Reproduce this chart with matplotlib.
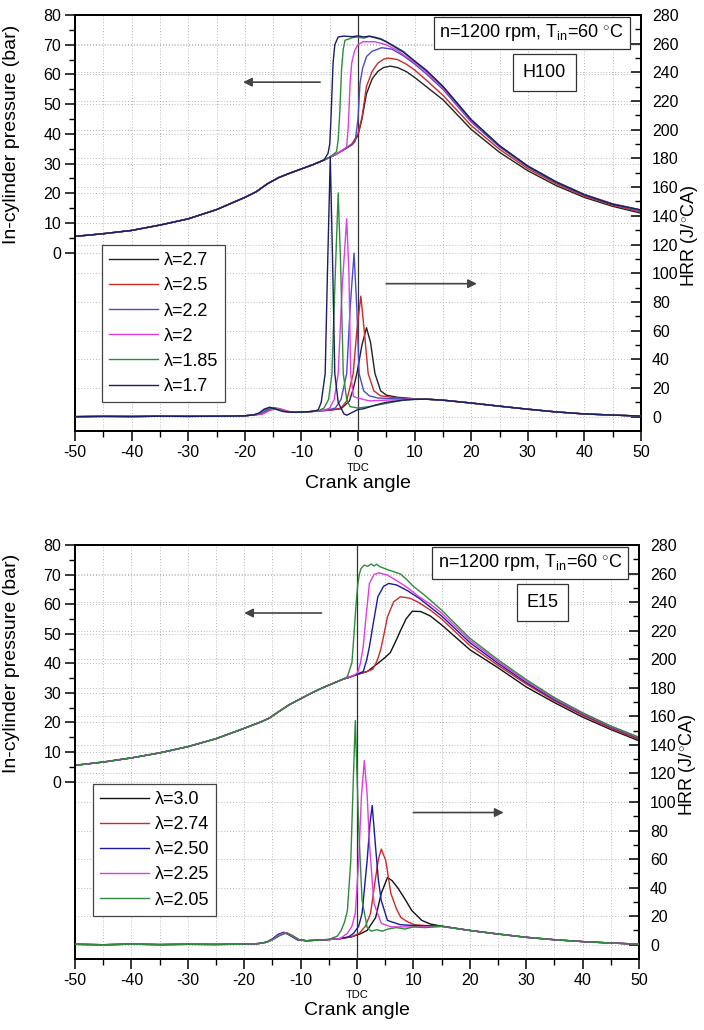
import matplotlib
matplotlib.use("Agg")
import matplotlib.pyplot as plt
import matplotlib.transforms as mtransforms
from matplotlib.ticker import FixedLocator

plt.rcParams['font.family'] = ['Liberation Sans', 'DejaVu Sans']
plt.rcParams['mathtext.fontset'] = 'custom'
plt.rcParams['mathtext.rm'] = 'Liberation Sans'
plt.rcParams['mathtext.it'] = 'Liberation Sans:italic'
plt.rcParams['mathtext.bf'] = 'Liberation Sans:bold'
plt.rcParams['axes.unicode_minus'] = False

# ---------------- H100 (top panel) ----------------
H100_LABELS = ['λ=2.7', 'λ=2.5', 'λ=2.2', 'λ=2', 'λ=1.85', 'λ=1.7']
H100_COLORS = ['#222222', '#cc2a2a', '#4b4bc8', '#e03ce0', '#2e8b3a', '#1c1c66']

H100_COMP_X = [-50, -45, -40, -35, -30, -25, -20, -18, -16, -14, -12, -10, -8, -6]
H100_COMP_P = [5.5, 6.4, 7.5, 9.3, 11.4, 14.5, 18.6, 20.5, 23.2, 25.3, 26.8, 28.2, 29.6, 31.2]

H100_P_X = [
    [-4, -2, -1, 0, 0.7, 1.5, 2.5, 3.5, 4.5, 5.7, 7, 8.5, 10, 12, 15, 20, 25, 30, 35, 40, 45, 50],
    [-4, -2, -1, 0, 0.7, 1.5, 2.5, 3.5, 4.5, 5.3, 7, 8.5, 10, 12, 15, 20, 25, 30, 35, 40, 45, 50],
    [-4, -2, -1, -0.5, 0, 0.35, 0.8, 1.5, 2.5, 4.2, 6, 8, 10, 12, 15, 20, 25, 30, 35, 40, 45, 50],
    [-4, -3, -2, -1.7, -1.4, -1.1, -0.6, 0, 0.9, 3, 5, 7, 10, 12, 15, 20, 25, 30, 35, 40, 45, 50],
    [-5, -4.3, -3.8, -3.5, -3.2, -2.9, -2.6, -2.3, -1.5, -1, 0, 1, 2, 3, 4, 5, 6, 8, 10, 12, 15,
     20, 25, 30, 35, 40, 45, 50],
    [-5.6, -5.3, -5, -4.8, -4.6, -4.4, -4.1, -3.5, -2.5, -1, 0, 1, 2, 3, 4, 5, 6, 8, 10, 12, 15,
     20, 25, 30, 35, 40, 45, 50],
]
H100_P_Y = [
    [33, 35.2, 36.5, 39.5, 45, 53.5, 58.5, 61, 62.3, 62.8, 62.3, 61, 59, 56, 51.5, 41.5, 33.8, 27.6, 22.6, 18.6, 15.6, 13.3],
    [33, 35.3, 36.8, 40, 45.6, 56, 61, 63.8, 65.1, 65.5, 65, 63.5, 61.5, 58.2, 53, 42.8, 34.8, 28.3, 23.2, 19, 16, 13.7],
    [33, 35.4, 36.4, 37.5, 45, 57, 62, 66, 67.8, 69, 68.5, 66.3, 63.5, 60.3, 55, 44, 35.6, 28.9, 23.6, 19.4, 16.3, 14.1],
    [33, 34.2, 35.5, 43, 57, 64, 68, 70, 71, 71, 70, 68, 64, 61, 55.5, 44.5, 36, 29.2, 23.9, 19.6, 16.5, 14.4],
    [32.2, 33.2, 34, 38, 48, 62, 68.5, 71.5, 72, 72.4, 72.6, 72.2, 72.8, 72.3, 71.8, 71, 70, 67.8, 64.5, 61.5, 56,
     44.8, 36, 29.2, 23.9, 19.6, 16.4, 14.3],
    [32.5, 33.4, 36.5, 44, 54, 64, 70, 72.6, 72.9, 72.7, 73, 72.6, 72.9, 72.5, 72, 71, 69.8, 67.5, 64.5, 61.5, 56,
     44.8, 36, 29.1, 23.8, 19.5, 16.3, 14.4],
]

H100_HRR_BASE_X = [-50, -45, -40, -35, -30, -25, -22, -20, -18.5]
H100_HRR_BASE_Y = [0, 0.2, 0.1, 0.3, 0.2, 0.3, 0.4, 0.6, 1.2]
H100_HRR_X = [
    [-17, -16, -14.8, -13.8, -12.5, -11, -9, -7, -5, -3, -1.5, -0.8, -0.2, 0.7, 1.5, 2.2, 3.0, 4, 5, 7, 10],
    [-17, -16, -14.5, -13.5, -12.3, -11, -9, -7, -5, -3, -2, -0.85, -0.2, 0.5, 1.1, 1.8, 2.8, 4, 6, 8, 10],
    [-17, -16, -15, -14, -12.7, -11, -9, -7, -5, -4, -3, -2, -1.4, -0.7, -0.2, 0.2, 1, 2, 3.5, 6, 10],
    [-17, -15.5, -14.3, -13.3, -12.2, -11, -9, -7, -6, -5, -4.2, -3.5, -2.8, -2, -1.6, -1.3, -0.8, 0.35, 2, 5, 10],
    [-17.5, -16.3, -15.2, -14.2, -13, -11, -9, -7, -6, -5.2, -4.6, -4.1, -3.5, -3.1, -2.6, -2, -1.4, 0, 2, 4, 6, 8, 10],
    [-17.5, -16.6, -15.6, -14.6, -13.3, -11.5, -9, -7.5, -7, -6.5, -5.8, -5.4, -4.9, -4.5, -4.1, -3.5, -2.5, -2, -1,
     0, 1, 3, 5, 8, 10],
]
H100_HRR_Y = [
    [2, 4.5, 6, 5, 3.6, 3, 3.3, 4, 4.5, 5.5, 11, 20, 30, 50, 62, 52, 30, 18, 15, 13.5, 12.5],
    [1.8, 4, 5.8, 5, 3.6, 3, 3.3, 4, 4.5, 6, 11, 30, 60, 84, 60, 30, 18, 14.5, 13.5, 12.7, 12.3],
    [2.2, 4.8, 6.2, 5.2, 3.6, 3, 3.3, 4, 5, 6, 12, 30, 75, 114, 75, 30, 18, 14.5, 13, 12.5, 12.2],
    [1.6, 4.5, 6, 5, 3.6, 3, 3.3, 4, 4.5, 6, 12, 30, 90, 138, 100, 30, 14, 12.6, 11, 11.5, 12.2],
    [2.2, 5, 6.4, 5.2, 3.6, 3, 3.3, 4, 6, 12, 30, 90, 156, 110, 30, 12, 7, 6, 7, 8.5, 10, 11.5, 12.2],
    [2.5, 5.2, 6.6, 5.3, 3.6, 3, 3.4, 4, 5, 10, 30, 100, 181, 110, 30, 10, 2, 1, 3, 5, 5.5, 8, 10, 11.5, 12],
]
H100_HRR_TAIL_X = [12, 15, 20, 25, 30, 35, 40, 45, 50]
H100_HRR_TAIL_Y = [12.2, 11.5, 9.5, 7.3, 5.2, 3.3, 1.9, 1.1, 0.4]

# ---------------- E15 (bottom panel) ----------------
E15_LABELS = ['λ=3.0', 'λ=2.74', 'λ=2.50', 'λ=2.25', 'λ=2.05']
E15_COLORS = ['#111111', '#cc2a2a', '#1a1aa0', '#e03ce0', '#2e8b3a']

E15_COMP_X = [-50, -45, -40, -35, -30, -25, -20, -17, -15.5, -14, -12, -10, -8, -6, -4, -2.5]
E15_COMP_P = [5.5, 6.6, 8.0, 9.7, 11.8, 14.5, 18.0, 20.2, 21.5, 23.5, 26, 28, 30, 31.8, 33.4, 34.6]

E15_P_X = [
    [-1.5, 0, 1.9, 3.7, 5.0, 5.9, 7, 7.7, 8.7, 9.8, 11.3, 13, 15, 20, 25, 30, 35, 40, 45, 50],
    [-1.5, 0, 1.5, 2.8, 3.6, 4.2, 4.8, 5.4, 6.5, 7.7, 9.4, 11, 13, 15, 20, 25, 30, 35, 40, 45, 50],
    [-1.5, 0, 0.6, 1.1, 1.7, 2.2, 2.9, 3.7, 4.7, 5.6, 7, 9, 11, 13, 15, 20, 25, 30, 35, 40, 45, 50],
    [-1.5, -0.5, 0.1, 0.6, 1.1, 1.6, 2.2, 3.0, 3.9, 5.4, 7, 9, 11, 13, 15, 20, 25, 30, 35, 40, 45, 50],
    [-1.7, -0.9, -0.6, -0.2, 0.1, 0.4, 0.7, 1.3, 1.9, 2.5, 3.0, 3.5, 4.0, 4.7, 5.5, 6.5, 7.7, 9, 10, 12, 15,
     20, 25, 30, 35, 40, 45, 50],
]
E15_P_Y = [
    [35.2, 36.2, 37.3, 40, 42, 43.6, 48, 51, 55, 57.6, 57.5, 56, 53, 44.6, 38.5, 32, 26.7, 21.8, 17.6, 13.8],
    [35.2, 36.2, 37, 38, 41, 44.6, 50, 55.7, 60.8, 62.5, 62, 60.5, 58, 55, 46, 39.3, 33, 27.3, 22.4, 18, 14.2],
    [35.2, 36.3, 36.8, 37.2, 41, 45.6, 53.7, 62.5, 66, 67, 66.5, 64.5, 62, 59, 56, 47, 40, 33.5, 27.7, 22.8, 18.4, 14.6],
    [35.3, 36, 36.8, 40, 45.6, 55.7, 67, 70, 70.6, 69.8, 68, 65.5, 62.5, 60, 57, 47.8, 40.6, 34, 28, 23, 18.6, 14.8],
    [35.5, 40.2, 48, 59, 66, 70, 72, 73.2, 72.8, 73.6, 72.9, 73.5, 72.7, 72.2, 71.6, 71, 70.2, 68, 66, 63, 58,
     48.5, 41.2, 34.5, 28.4, 23.3, 18.8, 15],
]

E15_HRR_BASE_X = [-50, -45, -40, -35, -30, -25, -20, -17.5, -16]
E15_HRR_BASE_Y = [0.3, 0, 0.4, 0.1, 0.3, 0.2, 0.4, 0.8, 1.8]
E15_HRR_X = [
    [-15, -14, -12.8, -11.8, -10.5, -9, -7, -5, -3, -1, 0.5, 1.8, 3.3, 4.3, 5.4, 6.2, 7.2, 8.5, 9.7, 11.5, 13, 15],
    [-15, -13.8, -12.5, -11.5, -10.3, -9, -7, -5, -3, -1, 0.4, 1.5, 2.4, 3.3, 3.8, 4.3, 5.1, 6.0, 7, 7.8, 9, 10.2, 12, 15],
    [-15, -14, -13, -12, -10.6, -9, -7, -5, -3, -1.5, -0.6, 0.3, 0.9, 1.8, 2.3, 2.7, 3.3, 3.8, 4.3, 5.4, 7.7, 10, 12, 15],
    [-15, -13.9, -12.7, -11.7, -10.4, -9, -7, -5, -3, -1.7, -0.9, -0.3, 0.3, 0.8, 1.3, 1.8, 2.2, 3.0, 4.3, 6, 10, 15],
    [-15, -13.7, -12.5, -11.5, -10.2, -9, -7, -5, -3.5, -2.8, -2.2, -1.7, -1.1, -0.7, -0.3, 0.3, 0.9, 1.8, 2.5, 3.5,
     4.5, 5.5, 7, 8.5, 10, 12, 15],
]
E15_HRR_Y = [
    [4, 7, 8.6, 6.5, 3.5, 2.8, 3.2, 3.6, 4.3, 5.5, 7.5, 10, 19, 36, 47, 45, 40, 32, 24, 17, 14.5, 13],
    [3.5, 6.5, 8.5, 6.5, 3.5, 2.8, 3.2, 3.6, 4.3, 5.5, 8, 13, 22, 47, 60, 67, 59, 36, 25, 19, 16, 14, 13.5, 13],
    [4, 7.2, 8.7, 6.8, 3.5, 2.8, 3.2, 3.6, 4.3, 5.5, 8, 13, 22, 59, 85, 97.5, 68, 45, 31, 17, 14, 13.5, 13.2, 13],
    [3.6, 6.8, 8.5, 6.6, 3.5, 2.8, 3.2, 3.6, 4.3, 8, 13, 22, 59, 105, 129, 105, 71, 29, 15, 12.5, 12.5, 12.8],
    [3.4, 6.3, 8.3, 6.5, 3.5, 2.8, 3.2, 3.8, 6, 10, 16, 24, 59, 110, 157, 82, 31, 12, 9.5, 10.5,
     9.5, 11, 12, 11, 12.5, 12, 12.8],
]
E15_HRR_TAIL_X = [20, 25, 30, 35, 40, 45, 50]
E15_HRR_TAIL_Y = [10, 7.5, 5.2, 3.5, 2.2, 1.2, 0.4]

# axis ticks
X_TICKS = [-50, -40, -30, -20, -10, 0, 10, 20, 30, 40, 50]
P_TICKS = [0, 10, 20, 30, 40, 50, 60, 70, 80]
HRR_TICKS = [0, 20, 40, 60, 80, 100, 120, 140, 160, 180, 200, 220, 240, 260, 280]

COND_TEXT = 'n=1200 rpm, T$_{\\rm in}$=60 $^{\\circ}$C'

GRID_KW = dict(color='#b8b8b8', lw=0.7, ls=(0, (1, 2)), zorder=0)


def draw_panel(ax, labels, colors, comp_x, comp_p, px, py, hb_x, hb_y, hx, hy, ht_x, ht_y,
               fuel, leg_anchor):
    ax2 = ax.twinx()
    ax.set_xlim(-50, 50)
    ax.set_ylim(-60, 80)
    ax2.set_ylim(-10, 280)

    # grid
    for v in range(-45, 50, 5):
        ax.axvline(v, **GRID_KW)
    for v in P_TICKS[:-1]:
        ax.axhline(v, **GRID_KW)
    tr = mtransforms.blended_transform_factory(ax.transAxes, ax2.transData)
    for v in HRR_TICKS[:-1]:
        ax.plot([0, 1], [v, v], transform=tr, **GRID_KW)
    ax.axvline(0, color='#333333', lw=0.9, zorder=1)

    handles = []
    for i in range(len(labels)):
        xs = [x for x in comp_x if x < px[i][0]] + px[i]
        ys = [p for x, p in zip(comp_x, comp_p) if x < px[i][0]] + py[i]
        h, = ax.plot(xs, ys, color=colors[i], lw=1.0, label=labels[i], zorder=3)
        handles.append(h)
        hxs = hb_x + hx[i] + ht_x
        hys = hb_y + hy[i] + ht_y
        ax2.plot(hxs, hys, color=colors[i], lw=1.0, zorder=3)

    # ticks
    ax.set_xticks(X_TICKS)
    ax.xaxis.set_minor_locator(FixedLocator(list(range(-45, 50, 10))))
    ax.set_yticks(P_TICKS)
    ax.yaxis.set_minor_locator(FixedLocator(list(range(5, 80, 10))))
    ax2.set_yticks(HRR_TICKS)
    ax2.yaxis.set_minor_locator(FixedLocator(list(range(10, 280, 20))))
    ax.tick_params(axis='both', which='major', direction='out', length=7, width=1.1,
                   labelsize=11.5, pad=3)
    ax.tick_params(axis='both', which='minor', direction='out', length=4, width=1.0)
    ax2.tick_params(axis='y', which='major', direction='in', length=7, width=1.1,
                    labelsize=11.5, pad=8)
    ax2.tick_params(axis='y', which='minor', direction='in', length=4, width=1.0)
    for a in (ax, ax2):
        for s in a.spines.values():
            s.set_linewidth(1.4)

    ax.set_ylabel('In-cylinder pressure (bar)', fontsize=14)
    ax.yaxis.set_label_coords(-0.097, 0.714)
    ax2.set_ylabel('HRR (J/$^{\\circ}$CA)', fontsize=13, rotation=90)
    ax2.yaxis.set_label_coords(1.067, 0.47)
    ax.set_xlabel('Crank angle', fontsize=14)
    ax.xaxis.set_label_coords(0.5, -0.105)

    trx = mtransforms.blended_transform_factory(ax.transData, ax.transAxes)
    ax.text(0, -0.088, 'TDC', transform=trx, ha='center', va='center', fontsize=8)

    ax.text(0.807, 0.957, COND_TEXT, transform=ax.transAxes, ha='center', va='center',
            fontsize=13, zorder=6,
            bbox=dict(boxstyle='square,pad=0.3', fc='white', ec='#333333', lw=0.9))
    ax.text(0.829, 0.862, fuel, transform=ax.transAxes, ha='center', va='center',
            fontsize=13, zorder=6,
            bbox=dict(boxstyle='square,pad=0.55', fc='white', ec='#333333', lw=0.9))

    leg = ax2.legend(handles=handles, loc='upper left', bbox_to_anchor=leg_anchor,
                     borderaxespad=0, fontsize=13, frameon=True, fancybox=False,
                     framealpha=1, edgecolor='#444444', handlelength=2.7,
                     handletextpad=0.3, labelspacing=0.45, borderpad=0.4)
    leg.get_frame().set_linewidth(0.9)
    leg.set_zorder(10)
    return ax2


fig = plt.figure(figsize=(7.04, 10.30), dpi=100)
ax_top = fig.add_axes([75 / 704, 1 - 431 / 1030, 566 / 704, 416 / 1030])
ax_bot = fig.add_axes([75 / 704, 1 - 959 / 1030, 564 / 704, 414 / 1030])

ax2_top = draw_panel(ax_top, H100_LABELS, H100_COLORS, H100_COMP_X, H100_COMP_P, H100_P_X, H100_P_Y,
                     H100_HRR_BASE_X, H100_HRR_BASE_Y, H100_HRR_X, H100_HRR_Y,
                     H100_HRR_TAIL_X, H100_HRR_TAIL_Y, 'H100', (0.048, 0.447))
ax2_bot = draw_panel(ax_bot, E15_LABELS, E15_COLORS, E15_COMP_X, E15_COMP_P, E15_P_X, E15_P_Y,
                     E15_HRR_BASE_X, E15_HRR_BASE_Y, E15_HRR_X, E15_HRR_Y,
                     E15_HRR_TAIL_X, E15_HRR_TAIL_Y, 'E15', (0.032, 0.423))

ARROW_KW = dict(arrowstyle='-|>', color='#444444', lw=1.2, mutation_scale=13)
# arrows pointing to the axis each curve family belongs to
ax_top.annotate('', xy=(-20.8, 57.4), xytext=(-6.2, 57.4), arrowprops=ARROW_KW)
ax2_top.annotate('', xy=(21.5, 92.7), xytext=(4.5, 92.7), arrowprops=ARROW_KW)
ax_bot.annotate('', xy=(-20.5, 57), xytext=(-5.8, 57), arrowprops=ARROW_KW)
ax2_bot.annotate('', xy=(26.5, 92.6), xytext=(9.5, 92.6), arrowprops=ARROW_KW)

fig.savefig('out.png', dpi=100)
